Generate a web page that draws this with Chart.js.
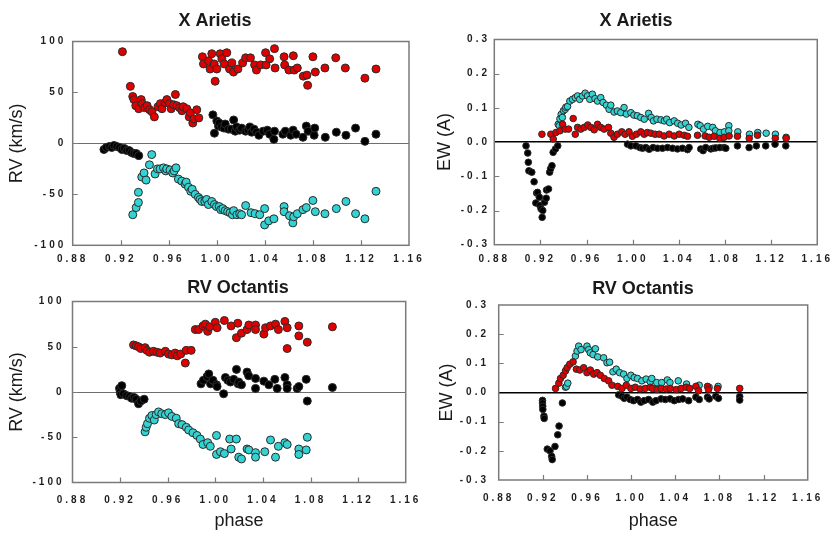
<!DOCTYPE html>
<html>
<head>
<meta charset="utf-8">
<title>X Arietis / RV Octantis</title>
<script src="https://cdn.jsdelivr.net/npm/chart.js@4.4.0/dist/chart.umd.min.js"></script>
<style>
  html, body { margin: 0; padding: 0; background: #fff; }
  #wrap { position: relative; width: 836px; height: 536px; overflow: hidden; }
  .panel { position: absolute; }
</style>
</head>
<body>
<div id="wrap">
  <canvas id="ariRv" class="panel" width="430" height="268" style="left:0;top:0"></canvas>
  <canvas id="ariEw" class="panel" width="416" height="268" style="left:420px;top:0"></canvas>
  <canvas id="octRv" class="panel" width="430" height="268" style="left:0;top:268px"></canvas>
  <canvas id="octEw" class="panel" width="416" height="268" style="left:420px;top:268px"></canvas>
</div>
<script>
// --- AXIS TICKS ---
const phaseTicks = [0.88, 0.92, 0.96, 1.00, 1.04, 1.08, 1.12, 1.16];
const rvTicks = [-100, -50, 0, 50, 100];
const ewTicks = [-0.3, -0.2, -0.1, 0, 0.1, 0.2, 0.3];

// --- X ARIETIS: radial velocity [phase, km/s] ---
const ariRvBlack = [
  [0.906,-6],[0.908,-4],[0.9106,-3],[0.9125,-4],[0.9144,-2],[0.9167,-3],[0.919,-4],[0.921,-6],
  [0.923,-5],[0.925,-7],[0.927,-7],[0.929,-9],[0.931,-10],[0.933,-10],[0.935,-12],
  [0.9967,28],[0.998,10],[1.000,22],[1.0014,17],[1.002,20],[1.004,16],[1.006,15],[1.007,19],
  [1.0097,14],[1.012,14],[1.014,23],[1.0153,12],[1.0165,16],[1.019,13],[1.0206,15],[1.024,12],
  [1.026,13],[1.0275,16],[1.029,11],[1.031,14],[1.033,11],[1.035,8],[1.0385,12],[1.042,13],
  [1.044,9],[1.0475,4],[1.048,12],[1.055,9],[1.057,12],[1.0615,8],[1.0635,13],[1.066,9],
  [1.0717,6],[1.0745,17],[1.076,12],[1.081,8],[1.0815,15],[1.0903,6],[1.0995,11],[1.1075,8],
  [1.1155,15],[1.1233,2],[1.1325,9]
];
const ariRvRed = [
  [0.9214,90],
  [0.928,56],[0.930,46],[0.931,43],[0.9325,37],[0.935,34],[0.937,43],[0.938,39],[0.940,35],
  [0.942,37],[0.944,33],[0.946,31],[0.948,26],[0.951,36],[0.953,39],[0.9543,34],[0.957,40],
  [0.9584,43],[0.9606,39],[0.962,34],[0.964,38],[0.9655,48],[0.9667,37],[0.969,35],[0.971,32],
  [0.972,36],[0.975,34],[0.977,26],[0.978,30],[0.980,20],[0.981,24],[0.9833,33],[0.985,25],
  [0.988,85],[0.9889,78],[0.9931,81],[0.9944,73],[0.9958,88],[0.9978,78],[0.9986,61],[1.000,73],
  [1.0028,88],[1.0042,83],[1.0061,78],[1.0083,89],[1.0106,73],[1.0125,79],[1.0139,70],[1.0175,73],
  [1.0215,79],[1.024,84],[1.028,84],[1.0315,77],[1.033,72],[1.0365,77],[1.0406,89],[1.041,77],
  [1.044,83],[1.048,93],[1.0485,74],[1.056,85],[1.0565,77],[1.060,72],[1.0637,86],[1.0645,72],
  [1.067,74],[1.072,66],[1.075,67],[1.0756,57],[1.080,85],[1.082,70],[1.090,74],[1.099,84],
  [1.107,74],[1.1233,64],[1.1325,73]
];
const ariRvCyan = [
  [0.930,-70],[0.9328,-63],[0.9347,-58],[0.9347,-48],[0.9375,-33],[0.9394,-29],[0.9411,-36],
  [0.9439,-21],[0.9458,-11],[0.9486,-30],[0.9506,-25],[0.9528,-25],[0.9556,-24],[0.9575,-27],
  [0.9583,-25],[0.961,-26],[0.9633,-29],[0.9645,-27],[0.966,-24],[0.968,-35],[0.9708,-37],
  [0.9736,-40],[0.9745,-38],[0.9764,-43],[0.9783,-47],[0.9795,-45],[0.982,-50],[0.9847,-53],
  [0.986,-55],[0.9875,-57],[0.990,-57],[0.9915,-55],[0.993,-60],[0.9958,-57],[0.998,-60],
  [0.9997,-62],[1.002,-62],[1.0033,-65],[1.005,-64],[1.007,-66],[1.009,-67],[1.011,-68],
  [1.013,-70],[1.014,-66],[1.0167,-70],[1.019,-69],[1.0206,-70],[1.024,-61],[1.0285,-68],
  [1.032,-69],[1.0357,-70],[1.0398,-64],[1.0398,-80],[1.0432,-76],[1.0475,-74],[1.056,-62],
  [1.056,-67],[1.0605,-71],[1.0633,-78],[1.064,-72],[1.067,-69],[1.0717,-65],[1.0745,-63],
  [1.080,-56],[1.082,-67],[1.090,-69],[1.0995,-64],[1.1075,-57],[1.1155,-69],[1.1233,-74],
  [1.1325,-47]
];

// --- X ARIETIS: equivalent width [phase, A] ---
const ariEwBlack = [
  [0.9075,-0.011],[0.909,-0.032],[0.9095,-0.059],[0.910,-0.084],[0.9125,-0.088],[0.9145,-0.116],
  [0.916,-0.178],[0.9167,-0.149],[0.9175,-0.147],[0.919,-0.161],[0.9195,-0.185],[0.9205,-0.195],
  [0.9215,-0.22],[0.922,-0.2],[0.9235,-0.176],[0.925,-0.164],[0.9253,-0.14],[0.927,-0.137],
  [0.928,-0.088],[0.9288,-0.078],[0.930,-0.069],[0.931,-0.03],[0.933,-0.02],[0.935,-0.011],
  [0.9955,-0.006],[0.9984,-0.011],[1.0027,-0.011],[1.0062,-0.016],[1.0085,-0.018],[1.0114,-0.016],
  [1.0143,-0.021],[1.0177,-0.016],[1.0215,-0.018],[1.0258,-0.018],[1.0302,-0.016],[1.0345,-0.018],
  [1.0388,-0.02],[1.0431,-0.018],[1.0475,-0.022],[1.0489,-0.016],[1.059,-0.02],[1.061,-0.025],
  [1.0633,-0.016],[1.0677,-0.02],[1.0697,-0.018],[1.072,-0.017],[1.0755,-0.016],[1.0792,-0.016],
  [1.0807,-0.018],[1.0908,-0.011],[1.1009,-0.016],[1.1072,-0.011],[1.1153,-0.011],[1.1234,-0.006],
  [1.1327,-0.011]
];
const ariEwRed = [
  [0.9213,0.023],[0.929,0.023],[0.9311,0.009],[0.9334,0.028],[0.9369,0.033],[0.9392,0.052],
  [0.9415,0.038],[0.9444,0.038],[0.9484,0.069],[0.9502,0.023],[0.9522,0.043],[0.955,0.038],
  [0.958,0.043],[0.961,0.05],[0.9637,0.043],[0.9666,0.036],[0.9695,0.052],[0.9723,0.043],
  [0.9752,0.038],[0.979,0.043],[0.981,0.026],[0.9838,0.014],[0.9867,0.023],[0.9905,0.03],
  [0.9934,0.023],[0.9968,0.03],[0.9997,0.017],[1.0032,0.023],[1.007,0.03],[1.010,0.023],
  [1.0127,0.028],[1.0157,0.026],[1.0194,0.023],[1.023,0.023],[1.0272,0.018],[1.0316,0.023],
  [1.036,0.018],[1.0403,0.023],[1.0446,0.02],[1.0475,0.017],[1.0562,0.02],[1.0628,0.018],
  [1.0663,0.014],[1.0706,0.017],[1.0755,0.011],[1.0793,0.014],[1.0836,0.018],[1.0908,0.017],
  [1.101,0.011],[1.1082,0.02],[1.1236,0.011],[1.133,0.011]
];
const ariEwCyan = [
  [0.9354,0.052],[0.9363,0.048],[0.9369,0.068],[0.938,0.081],[0.939,0.072],[0.940,0.092],
  [0.9415,0.096],[0.942,0.102],[0.9435,0.104],[0.9455,0.12],[0.9478,0.125],[0.9502,0.13],
  [0.9522,0.135],[0.954,0.125],[0.9565,0.135],[0.9588,0.143],[0.9608,0.135],[0.9628,0.125],
  [0.965,0.14],[0.9673,0.127],[0.9695,0.12],[0.9723,0.13],[0.9743,0.116],[0.9772,0.108],
  [0.9795,0.096],[0.981,0.108],[0.9838,0.088],[0.9867,0.091],[0.9896,0.086],[0.9925,0.101],
  [0.9945,0.082],[0.9984,0.086],[1.001,0.079],[1.004,0.077],[1.007,0.072],[1.010,0.067],
  [1.0138,0.084],[1.016,0.072],[1.018,0.062],[1.021,0.067],[1.0245,0.065],[1.0274,0.062],
  [1.0295,0.067],[1.032,0.057],[1.036,0.062],[1.039,0.055],[1.042,0.05],[1.0458,0.055],
  [1.0487,0.043],[1.0565,0.052],[1.0585,0.048],[1.0614,0.038],[1.065,0.046],[1.0694,0.043],
  [1.0717,0.033],[1.0757,0.028],[1.0795,0.03],[1.0833,0.048],[1.0833,0.033],[1.0911,0.03],
  [1.1012,0.023],[1.1084,0.028],[1.1157,0.026],[1.1237,0.023],[1.133,0.014]
];

// --- RV OCTANTIS: radial velocity [phase, km/s] ---
const octRvBlack = [
  [0.9195,4],[0.920,0],[0.9206,-3],[0.9214,7],[0.9228,-2],[0.9256,-4],[0.9279,-5],[0.9298,-7],
  [0.9318,-6],[0.9335,-8],[0.9355,-13],[0.9374,-10],[0.9402,-8],
  [0.988,9],[0.990,13],[0.993,17],[0.9945,20],[0.996,9],[0.998,13],[1.001,8],[1.0015,6],
  [1.007,-2],[1.0085,16],[1.0105,13],[1.0127,11],[1.0155,14],[1.0178,25],[1.0192,9],[1.0197,11],
  [1.022,8],[1.0267,22],[1.028,18],[1.0338,15],[1.0338,4],[1.0408,12],[1.045,8],[1.050,14],
  [1.052,4],[1.0585,16],[1.0604,8],[1.0604,4],[1.0688,4],[1.0702,6],[1.0764,14],[1.0773,-10],
  [1.0984,5]
];
const octRvRed = [
  [0.9313,52],[0.9335,51],[0.9355,50],[0.9374,48],[0.941,49],[0.9425,46],[0.9447,44],[0.948,45],
  [0.951,44],[0.9537,43],[0.958,45],[0.9607,42],[0.9635,41],[0.9663,43],[0.968,40],[0.971,42],
  [0.9748,32],[0.9756,46],[0.9797,46],
  [0.9832,69],[0.986,69],[0.9897,73],[0.9916,75],[0.9936,67],[0.9953,72],[1.000,77],[1.0015,71],
  [1.0076,79],[1.0133,73],[1.0177,60],[1.0189,76],[1.022,65],[1.0267,69],[1.0282,74],[1.0338,74],
  [1.0338,69],[1.0408,64],[1.0422,71],[1.0464,73],[1.0506,75],[1.053,69],[1.0585,78],[1.0604,71],
  [1.0604,48],[1.0702,73],[1.0702,62],[1.0773,55],[1.0984,72]
];
const octRvCyan = [
  [0.941,-44],[0.9419,-39],[0.943,-35],[0.9447,-29],[0.9467,-26],[0.9487,-31],[0.9503,-25],
  [0.9523,-22],[0.955,-24],[0.958,-25],[0.9607,-23],[0.9635,-27],[0.9672,-29],[0.9692,-35],
  [0.972,-36],[0.9756,-39],[0.9776,-42],[0.9812,-45],[0.9846,-48],[0.9874,-52],[0.9897,-58],
  [0.9936,-56],[0.9958,-60],[1.001,-48],[1.001,-69],[1.0043,-66],[1.0076,-68],[1.0121,-52],
  [1.0133,-63],[1.0177,-52],[1.0197,-72],[1.022,-74],[1.0267,-63],[1.0282,-64],[1.0338,-67],
  [1.0338,-72],[1.0416,-66],[1.0464,-53],[1.0506,-72],[1.053,-60],[1.0585,-56],[1.0604,-58],
  [1.0702,-63],[1.0702,-69],[1.0764,-64],[1.0773,-50]
];

// --- RV OCTANTIS: equivalent width [phase, A] ---
const octEwBlack = [
  [0.9197,-0.027],[0.9197,-0.036],[0.9199,-0.047],[0.920,-0.058],[0.921,-0.081],[0.9212,-0.089],
  [0.924,-0.194],[0.9265,-0.2],[0.928,-0.219],[0.9285,-0.23],[0.931,-0.185],[0.9335,-0.145],
  [0.9347,-0.115],[0.9377,-0.036],
  [0.9887,-0.008],[0.9917,-0.013],[0.9938,-0.02],[0.9962,-0.016],[0.9992,-0.024],[1.0022,-0.028],
  [1.0058,-0.024],[1.0088,-0.033],[1.0118,-0.028],[1.0158,-0.024],[1.0196,-0.033],[1.0226,-0.028],
  [1.0272,-0.022],[1.031,-0.024],[1.0353,-0.022],[1.0391,-0.028],[1.043,-0.024],[1.0467,-0.022],
  [1.0521,-0.028],[1.0587,-0.016],[1.0617,-0.024],[1.0692,-0.016],[1.0707,-0.022],[1.0767,-0.013],
  [1.0791,-0.02],[1.0984,-0.014],[1.0984,-0.026]
];
const octEwRed = [
  [0.9315,0.014],[0.9345,0.032],[0.936,0.048],[0.9384,0.059],[0.9405,0.074],[0.942,0.085],
  [0.9444,0.097],[0.9474,0.105],[0.9504,0.08],[0.9535,0.077],[0.957,0.085],[0.960,0.068],
  [0.963,0.077],[0.9661,0.063],[0.9691,0.068],[0.9721,0.059],[0.9757,0.048],[0.9796,0.04],
  [0.9826,0.025],[0.9878,0.021],[0.9917,0.014],[0.9956,0.025],[0.9998,0.014],[1.0037,0.018],
  [1.0082,0.012],[1.0127,0.014],[1.0173,0.018],[1.0193,0.014],[1.0235,0.01],[1.0272,0.014],
  [1.0318,0.012],[1.0355,0.014],[1.041,0.01],[1.0454,0.014],[1.050,0.018],[1.053,0.014],
  [1.0587,0.021],[1.0611,0.006],[1.0692,0.021],[1.0701,0.01],[1.0782,0.014],[1.0984,0.014]
];
const octEwCyan = [
  [0.9405,0.018],[0.9414,0.021],[0.9426,0.032],[0.9495,0.125],[0.951,0.142],[0.9525,0.159],
  [0.9546,0.147],[0.960,0.159],[0.9615,0.147],[0.963,0.136],[0.9655,0.13],[0.9676,0.15],
  [0.9697,0.122],[0.9751,0.119],[0.9781,0.102],[0.9805,0.104],[0.9835,0.071],[0.9865,0.08],
  [0.9896,0.068],[0.9932,0.063],[0.9962,0.048],[0.9998,0.059],[1.0028,0.051],[1.0058,0.048],
  [1.0097,0.04],[1.0136,0.046],[1.0173,0.037],[1.0187,0.048],[1.0232,0.034],[1.0277,0.034],
  [1.0328,0.043],[1.0352,0.034],[1.0427,0.04],[1.0502,0.029],[1.0617,0.025],[1.0707,0.018],
  [1.0788,0.021]
];

// --- PLUGINS ---
const FONT = 'Arial, "Liberation Sans", sans-serif';

// wide-tracked tick labels
const tickSpacing = {
  id: 'tickSpacing',
  beforeDraw(chart) {
    Object.values(chart.scales).forEach(scale => {
      if (scale._spaced) return;
      const orig = scale.drawLabels.bind(scale);
      scale.drawLabels = function (area) {
        const ctx = this.ctx;
        ctx.save();
        ctx.letterSpacing = '3px';
        orig(area);
        ctx.restore();
      };
      scale._spaced = true;
    });
  }
};

// box round the plot area with short inward tick marks
const frame = {
  id: 'frame',
  afterDraw(chart) {
    const { ctx, chartArea: a, scales } = chart;
    ctx.save();
    ctx.strokeStyle = '#7a7a7a';
    ctx.lineWidth = 1.5;
    ctx.strokeRect(a.left, a.top, a.right - a.left, a.bottom - a.top);
    ctx.lineWidth = 1.2;
    ctx.beginPath();
    scales.y.ticks.forEach(t => {
      if (t.value === scales.y.min || t.value === scales.y.max) return;
      const y = Math.round(scales.y.getPixelForValue(t.value)) + 0.5;
      ctx.moveTo(a.left, y);
      ctx.lineTo(a.left + 5, y);
    });
    scales.x.ticks.forEach(t => {
      if (t.value === scales.x.min || t.value === scales.x.max) return;
      const x = Math.round(scales.x.getPixelForValue(t.value)) + 0.5;
      ctx.moveTo(x, a.bottom);
      ctx.lineTo(x, a.bottom - 5);
    });
    ctx.stroke();
    ctx.restore();
  }
};

// panel heading
const panelTitle = {
  id: 'panelTitle',
  afterDraw(chart, args, opts) {
    const ctx = chart.ctx;
    ctx.save();
    ctx.font = 'bold 18px ' + FONT;
    ctx.fillStyle = '#1a1a1a';
    ctx.textAlign = 'center';
    ctx.textBaseline = 'middle';
    ctx.fillText(opts.text, opts.x, opts.y);
    ctx.restore();
  }
};

// --- PANEL BUILDER ---
function makePanel(id, cfg) {
  const canvas = document.getElementById(id);
  const W = canvas.width, H = canvas.height;
  const area = cfg.area;
  const toXY = pts => pts.map(p => ({ x: p[0], y: p[1] }));
  const series = [
    { data: cfg.black, color: '#000000' },
    { data: cfg.red, color: '#e00000' },
    { data: cfg.cyan, color: '#33d3d3' }
  ];
  const tickFont = { family: FONT, size: 10, weight: 'bold' };
  const labelFont = { family: FONT, size: 18 };

  return new Chart(canvas, {
    type: 'scatter',
    data: {
      datasets: series.map(s => ({
        data: toXY(s.data),
        pointBackgroundColor: s.color,
        pointBorderColor: '#2b2b2b',
        pointBorderWidth: 1,
        pointRadius: cfg.radius,
        pointHoverRadius: cfg.radius
      }))
    },
    options: {
      responsive: false,
      animation: false,
      devicePixelRatio: 1,
      events: [],
      layout: { padding: { left: 0, top: area.top, right: W - area.right, bottom: 0 } },
      plugins: {
        legend: { display: false },
        tooltip: { enabled: false },
        panelTitle: { text: cfg.title, x: cfg.titleX, y: cfg.titleY }
      },
      scales: {
        x: {
          type: 'linear',
          min: 0.88,
          max: 1.16,
          afterBuildTicks: s => { s.ticks = phaseTicks.map(v => ({ value: v })); },
          afterFit: s => { s.height = H - area.bottom; },
          grid: { display: false, drawTicks: false },
          border: { display: false },
          ticks: {
            autoSkip: false,
            maxRotation: 0,
            padding: cfg.xPad,
            color: '#1e1e1e',
            font: tickFont,
            callback: v => v.toFixed(2)
          },
          title: cfg.xTitle
            ? { display: true, text: cfg.xTitle, color: '#1a1a1a', font: labelFont, padding: { top: 0, bottom: 4 } }
            : { display: false }
        },
        y: {
          type: 'linear',
          min: cfg.yTicks[0],
          max: cfg.yTicks[cfg.yTicks.length - 1],
          afterBuildTicks: s => { s.ticks = cfg.yTicks.map(v => ({ value: v })); },
          afterFit: s => { s.width = area.left; },
          grid: {
            drawTicks: false,
            color: c => (c.tick && c.tick.value === 0 ? cfg.zeroColor : 'rgba(0,0,0,0)'),
            lineWidth: cfg.zeroWidth
          },
          border: { display: false },
          ticks: {
            autoSkip: false,
            padding: cfg.yPad,
            color: '#1e1e1e',
            font: tickFont,
            callback: cfg.yFormat
          },
          title: { display: true, text: cfg.yTitle, color: '#1a1a1a', font: labelFont, padding: { top: cfg.yTitleX - 10.8, bottom: 0 } }
        }
      }
    },
    plugins: [tickSpacing, frame, panelTitle]
  });
}

const rvFormat = v => String(v);
const ewFormat = v => v.toFixed(1);

makePanel('ariRv', {
  title: 'X Arietis', titleX: 215, titleY: 21,
  black: ariRvBlack, red: ariRvRed, cyan: ariRvCyan,
  area: { left: 72.7, right: 409, top: 41.5, bottom: 245.3 },
  yTicks: rvTicks, yFormat: rvFormat, yTitle: 'RV (km/s)', yTitleX: 17,
  xPad: 8, yPad: 6.4, radius: 4, zeroColor: '#6e6e6e', zeroWidth: 1
});

makePanel('ariEw', {
  title: 'X Arietis', titleX: 216, titleY: 21,
  black: ariEwBlack, red: ariEwRed, cyan: ariEwCyan,
  area: { left: 74.3, right: 397.7, top: 39.5, bottom: 244.7 },
  yTicks: ewTicks, yFormat: ewFormat, yTitle: 'EW (A)', yTitleX: 25,
  xPad: 9, yPad: 4.3, radius: 3.3, zeroColor: '#000000', zeroWidth: 1.5
});

makePanel('octRv', {
  title: 'RV Octantis', titleX: 238, titleY: 20.5,
  black: octRvBlack, red: octRvRed, cyan: octRvCyan,
  area: { left: 72.5, right: 405.7, top: 33.5, bottom: 214.5 },
  yTicks: rvTicks, yFormat: rvFormat, yTitle: 'RV (km/s)', yTitleX: 17, xTitle: 'phase',
  xPad: 12, yPad: 8, radius: 4, zeroColor: '#6e6e6e', zeroWidth: 1
});

makePanel('octEw', {
  title: 'RV Octantis', titleX: 223, titleY: 21,
  black: octEwBlack, red: octEwRed, cyan: octEwCyan,
  area: { left: 78.7, right: 387.7, top: 37, bottom: 212 },
  yTicks: ewTicks, yFormat: ewFormat, yTitle: 'EW (A)', yTitleX: 27, xTitle: 'phase',
  xPad: 12, yPad: 9.7, radius: 3.3, zeroColor: '#000000', zeroWidth: 1.5
});
</script>
</body>
</html>
